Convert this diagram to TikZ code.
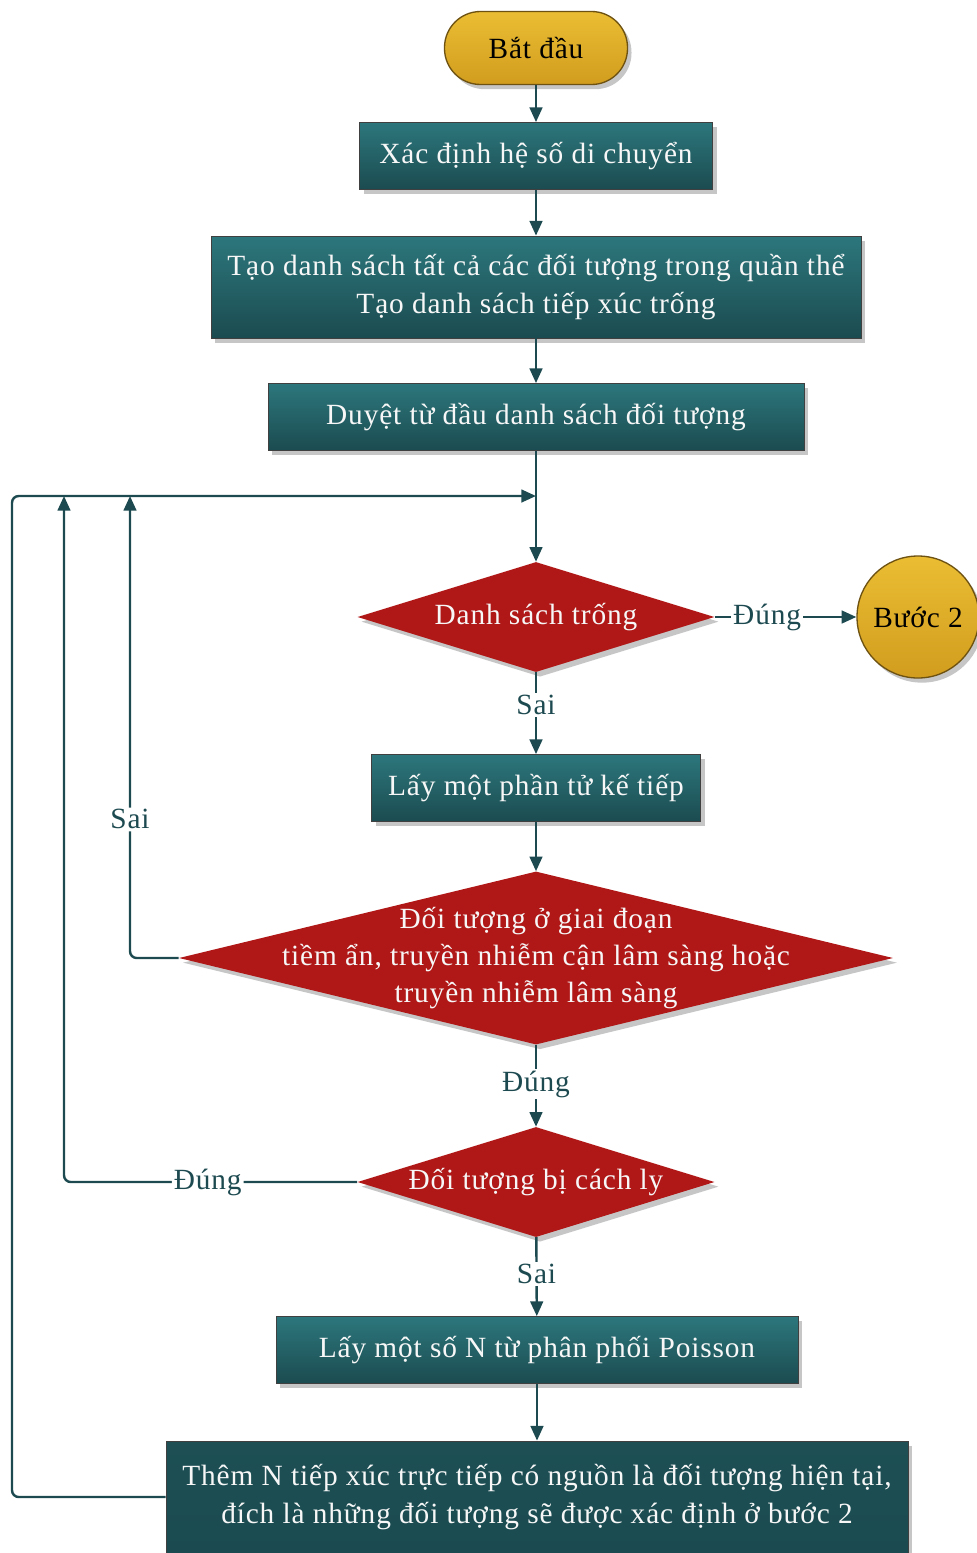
\documentclass[tikz,border=0pt]{standalone}
\usepackage{fontspec}
\setmainfont[LetterSpace=3]{Liberation Serif}
\usetikzlibrary{shapes.geometric,arrows.meta,shadows}

\definecolor{tealtop}{HTML}{2C777C}
\definecolor{tealbot}{HTML}{1B4B50}
\definecolor{lineteal}{HTML}{1D4A50}
\definecolor{redfill}{HTML}{B01717}
\definecolor{goldtop}{HTML}{EABD33}
\definecolor{goldbot}{HTML}{D29D1E}
\definecolor{goldrim}{HTML}{6E5212}

\begin{document}
\begin{tikzpicture}[x=0.75pt,y=-0.75pt,
  every node/.style={font=\fontsize{22}{28}\selectfont},
  shade/.style={drop shadow={shadow xshift=3pt,shadow yshift=-3.5pt,opacity=0.45}},
  procbox/.style={rectangle,draw=black!75,line width=0.6pt,top color=tealtop,
    bottom color=tealbot,text=white!94!gray,align=center,inner sep=0pt,shade},
  startbox/.style={rectangle,rounded corners=27pt,draw=goldrim,line width=1pt,
    top color=goldtop,bottom color=goldbot,text=black,inner sep=0pt,shade},
  endcircle/.style={circle,draw=goldrim,line width=1pt,top color=goldtop,
    bottom color=goldbot,text=black,inner sep=0pt,minimum size=91.5pt,shade},
  decision/.style={diamond,fill=redfill,inner sep=0pt,shade},
  dtext/.style={text=white!94!gray,align=center,inner sep=0pt},
  conn/.style={draw=lineteal,line width=1.8pt,
    -{Triangle[length=11pt,width=9.5pt]}},
  lbl/.style={fill=white,inner sep=1.5pt,text=lineteal}
]
\useasboundingbox (0,0) rectangle (976,1553);

% process steps
\node[startbox,minimum width=137.25pt,minimum height=54.75pt] (start) at (536,48) {Bắt đầu};
\node[procbox,minimum width=264.75pt,minimum height=50.25pt] (b1) at (536,156) {Xác định hệ số di chuyển};
\node[procbox,minimum width=487.5pt,minimum height=76.5pt] (b2) at (536,287)
  {Tạo danh sách tất cả các đối tượng trong quần thể\\Tạo danh sách tiếp xúc trống};
\node[procbox,minimum width=402pt,minimum height=50.25pt] (b3) at (536,417) {Duyệt từ đầu danh sách đối tượng};

% decisions
\node[decision,minimum width=267.75pt,minimum height=82.5pt] (d1) at (536,617) {};
\node[dtext] (d1t) at (d1) {Danh sách trống};
\node[endcircle] (step2) at (918,617) {Bước 2};

\node[procbox,minimum width=246.75pt,minimum height=50.25pt] (b4) at (536,788) {Lấy một phần tử kế tiếp};

\node[decision,minimum width=535.5pt,minimum height=129.75pt] (d2) at (536,958) {};
\node[dtext] (d2t) at (d2) {Đối tượng ở giai đoạn\\tiềm ẩn, truyền nhiễm cận lâm sàng hoặc\\truyền nhiễm lâm sàng};

\node[decision,minimum width=267.75pt,minimum height=82.5pt] (d3) at (536,1182) {};
\node[dtext] (d3t) at (d3) {Đối tượng bị cách ly};

\node[procbox,minimum width=391.5pt,minimum height=50.25pt] (b5) at (537,1350) {Lấy một số N từ phân phối Poisson};
\node[procbox,minimum width=556.5pt,minimum height=84pt,top color=tealbot!90!tealtop,bottom color=tealbot] (b6) at (537,1497)
  {Thêm N tiếp xúc trực tiếp có nguồn là đối tượng hiện tại,\\đích là những đối tượng sẽ được xác định ở bước 2};

% return points on the loop line
\coordinate (j) at (536,496);
\coordinate (back1) at (130,496);
\coordinate (back2) at (64,496);
\coordinate (back3) at (12,496);

% connectors
\draw[conn] (start) -- (b1);
\draw[conn] (b1) -- (b2);
\draw[conn] (b2) -- (b3);
\draw[conn] (b3) -- (d1);
\draw[conn] (d1) -- node[lbl,pos=0.37]{Đúng} (step2);
\draw[conn] (d1) -- node[lbl,pos=0.4]{Sai} (b4);
\draw[conn] (b4) -- (d2);
\draw[conn,rounded corners=5pt] (d2.west) -| node[lbl,pos=0.65]{Sai} (back1);
\draw[conn] (d2) -- node[lbl,pos=0.48]{Đúng} (d3);
\draw[conn,rounded corners=5pt] (d3.west) -| node[lbl,pos=0.255]{Đúng} (back2);
\draw[conn] (d3) -- node[lbl,pos=0.47]{Sai} (b5);
\draw[conn] (b5) -- (b6);
\draw[conn,rounded corners=5pt] (b6.west) -| (back3) -- (j);
\end{tikzpicture}
\end{document}
